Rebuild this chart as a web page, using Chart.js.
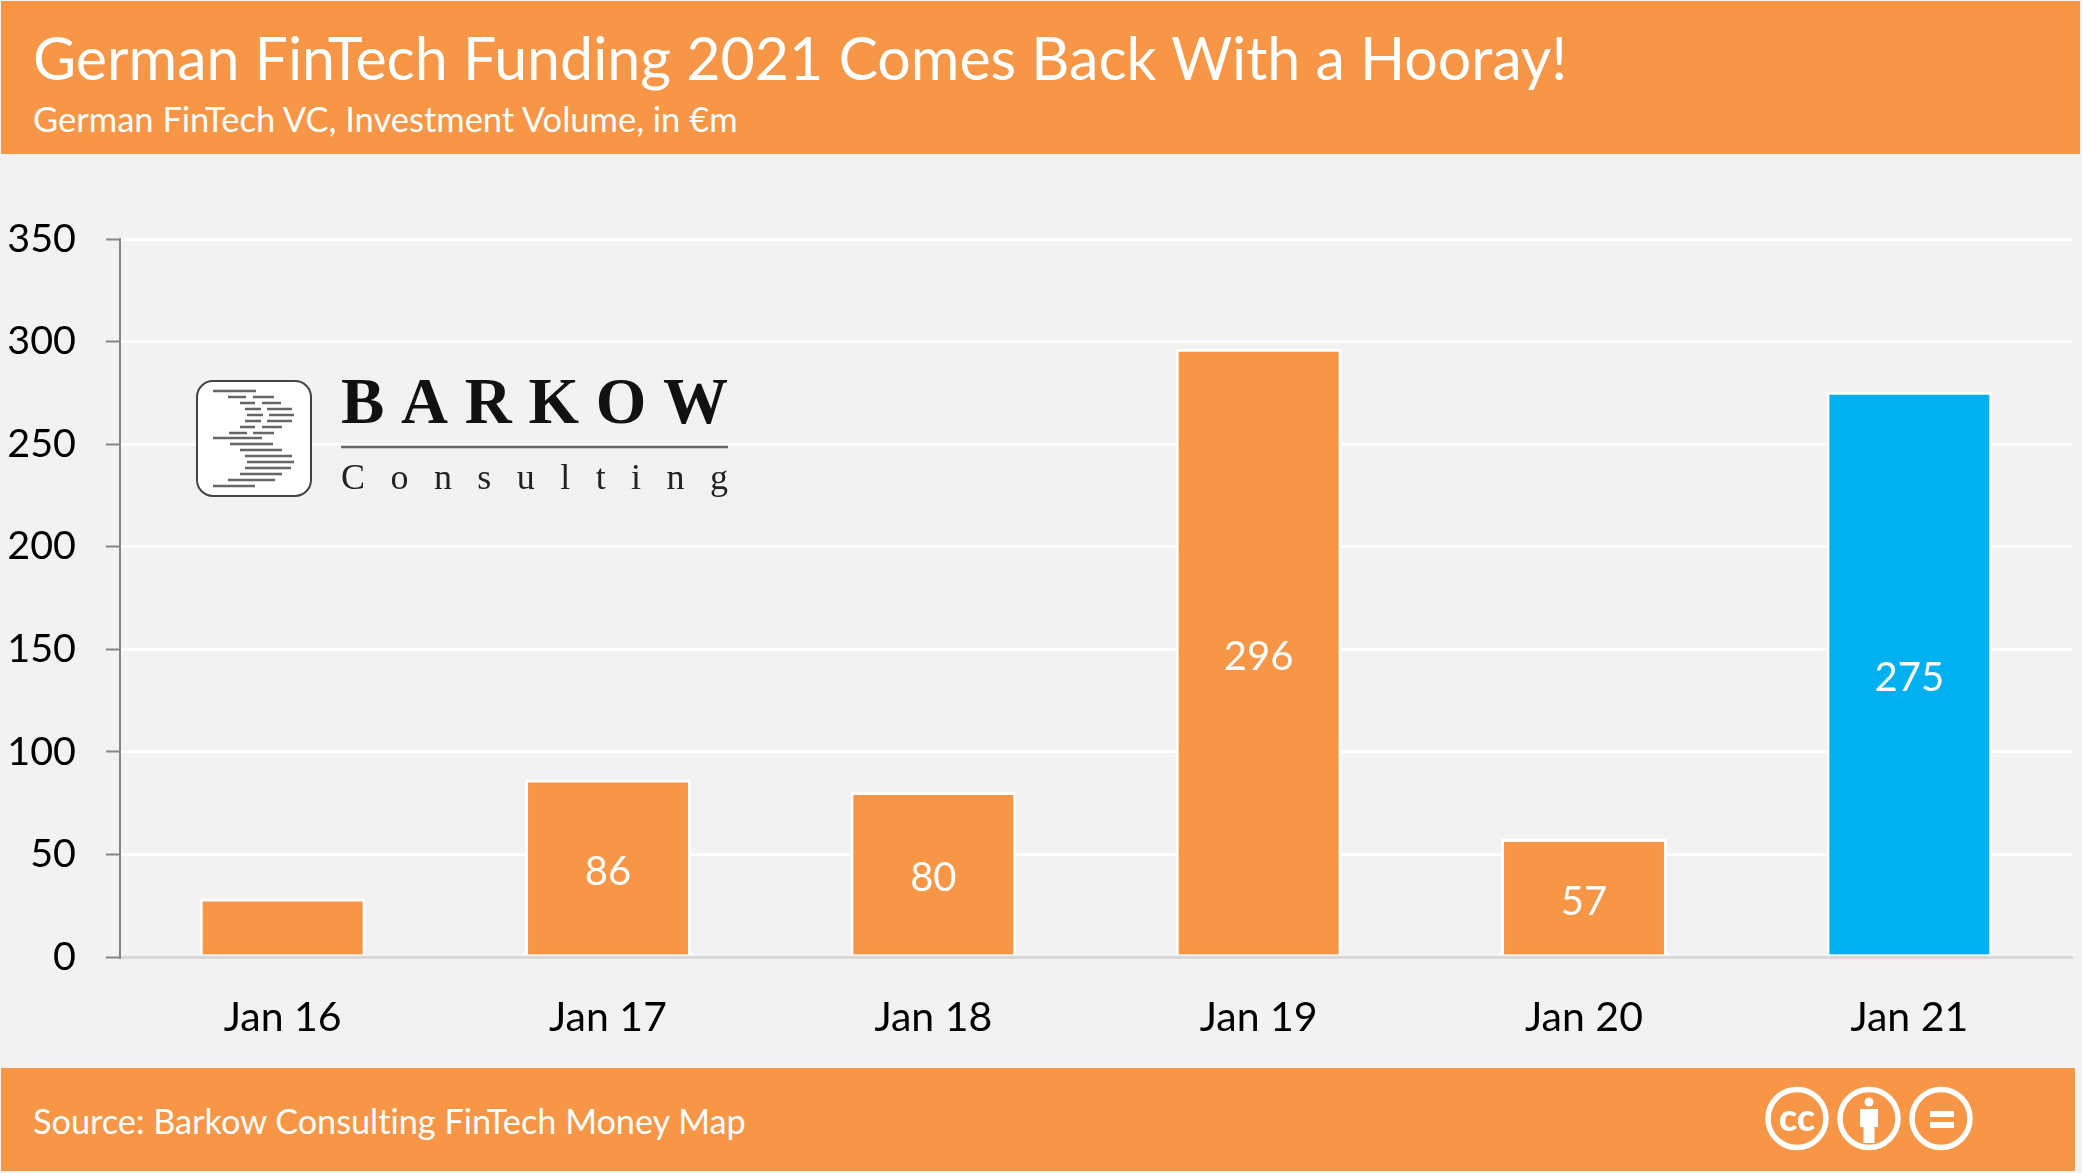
<!DOCTYPE html>
<html>
<head>
<meta charset="utf-8">
<title>German FinTech Funding 2021</title>
<script src="https://cdn.jsdelivr.net/npm/chart.js@4"></script>
<style>
html,body{margin:0;padding:0;background:#f2f2f2;}
#page{position:relative;width:2082px;height:1173px;overflow:hidden;font-family:Lato,sans-serif;color:#fff;font-variant-ligatures:none;}
#chart{position:absolute;left:0;top:0;}
.band{position:absolute;left:1px;background:#f79646;}
#head{top:1px;width:2079px;height:153px;}
#foot{top:1068px;width:2074px;height:103px;}
.txt{position:absolute;white-space:nowrap;}
#title{left:33px;top:23px;font-size:59.100px;line-height:70px;}
#sub{left:33px;top:98px;font-size:34.500px;line-height:42px;}
#source{left:33px;top:1100px;font-size:34.250px;line-height:42px;}
#logo{position:absolute;left:0;top:0;}
#cc{position:absolute;left:0;top:0;}
</style>
</head>
<body>
<div id="page">
  <canvas id="chart" width="2082" height="1173"></canvas>
  <div class="band" id="head"></div>
  <div class="band" id="foot"></div>
  <div class="txt" id="title">German FinTech Funding 2021 Comes Back With a Hooray!</div>
  <div class="txt" id="sub">German FinTech VC, Investment Volume, in €m</div>
  <div class="txt" id="source">Source: Barkow Consulting FinTech Money Map</div>

  <!-- logo -->
  <svg id="logo" width="2082" height="1173">
    <rect x="197" y="381" width="114" height="115" rx="16" fill="#fff" stroke="#444" stroke-width="2"/>
    <g stroke="#666" stroke-width="2.500">
      <path d="M213 391h43M228 397h18M253 397h21M240 403h15M262 403h19M245 409h16M267 409h25"/>
      <path d="M247 415h16M269 415h25M245 421h16M267 421h25M240 427h15M262 427h20M229 433h18M253 433h21"/>
      <path d="M213 438h49M230 444h43M240 450h42M245 456h47M247 462h47M245 468h46M240 474h42M228 480h47M213 486h42"/>
    </g>
    <text x="341" y="423" font-family="Liberation Serif" font-weight="700" font-size="65" textLength="387" fill="#111">BARKOW</text>
    <line x1="341" y1="447" x2="728" y2="447" stroke="#666" stroke-width="2.500"/>
    <text x="341" y="489" font-family="Liberation Serif" font-size="36" textLength="387" fill="#222">Consulting</text>
  </svg>

  <!-- licence badges -->
  <svg id="cc" width="2082" height="1173">
    <g fill="none" stroke="#fff" stroke-width="5.500">
      <circle cx="1797" cy="1118.500" r="29"/>
      <circle cx="1869" cy="1118.500" r="29"/>
      <circle cx="1941" cy="1118.500" r="29"/>
    </g>
    <text x="1797" y="1131" text-anchor="middle" font-family="Lato" font-weight="900" font-size="38" fill="#fff">cc</text>
    <circle cx="1869" cy="1102" r="4.500" fill="#fff"/>
    <path d="M1860 1109h18v18h-3.500v16h-11v-16h-3.500z" fill="#fff"/>
    <path d="M1930 1111h24v6h-24zM1930 1122h24v6h-24z" fill="#fff"/>
  </svg>
</div>

<script>
/* DATA */
const categories = ['Jan 16','Jan 17','Jan 18','Jan 19','Jan 20','Jan 21'];
const investment = [28, 86, 80, 296, 57, 275];
const barLabels = [null, '86', '80', '296', '57', '275'];
const yTicks = [0, 50, 100, 150, 200, 250, 300, 350];

const ORANGE = '#f79646';
const BLUE = '#00b0f0';
const FONT = 'Lato';

/* bars stop just above the axis line; numbers go in the middle */
const barTweaks = {
  id:'barTweaks',
  beforeDatasetsDraw(chart){
    chart.ctx.save();
    chart.ctx.translate(0,-1);
  },
  afterDatasetsDraw(chart){
    const {ctx} = chart;
    ctx.restore();
    const bars = chart.getDatasetMeta(0).data;
    ctx.save();
    ctx.fillStyle = '#fff';
    ctx.font = `40px ${FONT}`;
    ctx.textAlign = 'center';
    ctx.textBaseline = 'middle';
    bars.forEach((b,i)=>{
      if(barLabels[i] === null) return;
      ctx.fillText(barLabels[i], b.x, (b.y + b.base)/2 + 4);
    });
    ctx.restore();
  }
};

new Chart(document.getElementById('chart'), {
  type:'bar',
  data:{
    labels:categories,
    datasets:[{
      data:investment,
      backgroundColor:[ORANGE,ORANGE,ORANGE,ORANGE,ORANGE,BLUE],
      borderColor:'#fff',
      borderWidth:{top:3,left:3,right:3,bottom:0},
      barPercentage:.51,
      categoryPercentage:1
    }]
  },
  plugins:[barTweaks],
  options:{
    responsive:false,
    animation:false,
    layout:{padding:{top:239,right:10,left:0,bottom:0}},
    plugins:{legend:{display:false},tooltip:{enabled:false}},
    scales:{
      x:{
        afterFit(a){ a.height = 216; },
        grid:{display:false},
        border:{color:'#d9d9d9',width:3},
        ticks:{color:'#000',font:{family:FONT,size:41},padding:28,maxRotation:0}
      },
      y:{
        min:0,
        max:350,
        afterFit(a){ a.width = 120; },
        afterBuildTicks(a){ a.ticks = yTicks.map(v=>({value:v})); },
        grid:{color:'#fff',lineWidth:3,tickColor:'#868686',tickLength:14,tickWidth:2},
        border:{color:'#868686',width:2},
        ticks:{color:'#000',font:{family:FONT,size:39.500},padding:30}
      }
    }
  }
});
</script>
</body>
</html>
